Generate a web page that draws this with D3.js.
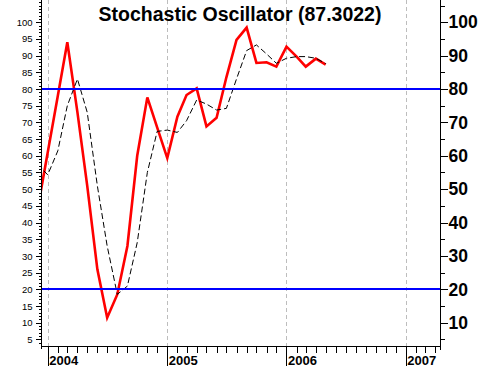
<!DOCTYPE html>
<html>
<head>
<meta charset="utf-8">
<script src="https://cdn.jsdelivr.net/npm/d3@7"></script>
<style>
html,body{margin:0;padding:0;background:#fff;}
svg{display:block;font-family:"Liberation Sans",Arial,sans-serif;}
</style>
</head>
<body>
<svg id="chart" width="481" height="366"></svg>
<script>
// ---- data ----
const dates = ["2003-12-01","2004-01-01","2004-02-01","2004-03-01","2004-04-01","2004-05-01","2004-06-01","2004-07-01","2004-08-01","2004-09-01","2004-10-01","2004-11-01","2004-12-01",
  "2005-01-01","2005-02-01","2005-03-01","2005-04-01","2005-05-01","2005-06-01","2005-07-01","2005-08-01","2005-09-01","2005-10-01","2005-11-01","2005-12-01",
  "2006-01-01","2006-02-01","2006-03-01","2006-04-01","2006-05-01"];
const kValues = [44,61,78,94,73,51,26,11.5,18.5,33,60,77.5,68.5,
  59.3,71.7,78.2,80.2,68.8,71.4,83.5,94.7,98.4,87.8,88,86.7,
  92.7,89.7,86.7,89.1,87.3022];
const dValues = [57.5,54.3,61.5,75,83,73,51,33,18.5,21,34,55,67.3,
  67.7,67,70.5,76.7,75.5,73.7,74.2,83,91.5,93.2,90.5,87.7,
  89.2,89.7,89.7,89.2,87.6];
const levels = [80,20];
const leftTickLabels = [5,10,15,20,25,30,35,40,45,50,55,60,65,70,75,80,85,90,95,100];
const rightTickLabels = [10,20,30,40,50,60,70,80,90,100];
const yearLabels = ["2004","2005","2006","2007"];
const titleText = "Stochastic Oscillator (87.3022)";

// ---- layout ----
const L = 42, R = 440, T = 0, B = 346;
const svg = d3.select("#chart");
const parse = d3.timeParse("%Y-%m-%d");
const x = d3.scaleTime()
  .domain([new Date(2003,11,14,12), new Date(2007,3,16)])
  .range([L, R]);
const y = d3.scaleLinear().domain([3.05, 106.65]).range([B, T]);

svg.append("defs").append("clipPath").attr("id","clip")
  .append("rect").attr("x",L).attr("y",T).attr("width",R-L).attr("height",B-T);

// year gridlines
const years = yearLabels.map(s => new Date(+s,0,1));
svg.append("g").selectAll("line").data(years).join("line")
  .attr("x1", d => Math.round(x(d))+0.5).attr("x2", d => Math.round(x(d))+0.5)
  .attr("y1", T).attr("y2", B)
  .attr("stroke","#bdbdbd").attr("stroke-width",1).attr("stroke-dasharray","4,3");

const pts = dates.map((d,i) => ({date: parse(d), k: kValues[i], d: dValues[i]}));
const plot = svg.append("g").attr("clip-path","url(#clip)");

plot.append("path").datum(pts)
  .attr("fill","none").attr("stroke","#ff0000").attr("stroke-width",2.6)
  .attr("stroke-linejoin","miter")
  .attr("d", d3.line().x(p => x(p.date)).y(p => y(p.k)));

plot.append("path").datum(pts)
  .attr("fill","none").attr("stroke","#000").attr("stroke-width",1)
  .attr("stroke-dasharray","6,3")
  .attr("d", d3.line().x(p => x(p.date)).y(p => y(p.d)));

plot.selectAll("line.lvl").data(levels).join("line").attr("class","lvl")
  .attr("x1", L).attr("x2", R)
  .attr("y1", d => Math.round(y(d))).attr("y2", d => Math.round(y(d)))
  .attr("stroke","#0000ff").attr("stroke-width",2);

// left axis
const gl = svg.append("g").attr("transform",`translate(${L-0.5},0)`);
gl.call(d3.axisLeft(y).tickValues(d3.range(4,107,1)).tickSize(3).tickFormat(""));
gl.call(g => g.select(".domain").remove());
const gl2 = svg.append("g").attr("transform",`translate(${L-0.5},0)`);
gl2.call(d3.axisLeft(y).tickValues(leftTickLabels).tickSize(6).tickPadding(3).tickFormat(d3.format("d")));
gl2.select(".domain").remove();
gl2.selectAll("text").attr("font-size","9.5px").attr("font-family","'Liberation Sans',Arial,sans-serif").attr("fill","#000");
svg.append("line").attr("x1",L-0.5).attr("x2",L-0.5).attr("y1",0).attr("y2",B+3).attr("stroke","#000");

// right axis
const gr = svg.append("g").attr("transform",`translate(${R+0.5},0)`);
gr.call(d3.axisRight(y).tickValues(d3.range(5,106,5)).tickSize(4).tickFormat(""));
gr.select(".domain").remove();
const gr2 = svg.append("g").attr("transform",`translate(${R+0.5},0)`);
gr2.call(d3.axisRight(y).tickValues(rightTickLabels).tickSize(7).tickPadding(1).tickFormat(d3.format("d")));
gr2.select(".domain").remove();
gr2.selectAll("text").attr("font-size","17.5px").attr("font-weight","bold")
  .attr("font-family","'Liberation Sans',Arial,sans-serif").attr("fill","#000");
svg.append("line").attr("x1",R+0.5).attr("x2",R+0.5).attr("y1",0).attr("y2",B+4).attr("stroke","#000");

// bottom axis
const gb = svg.append("g").attr("transform",`translate(0,${B+0.5})`);
gb.call(d3.axisBottom(x).ticks(d3.timeMonth.every(1)).tickSize(6).tickFormat(""));
gb.select(".domain").remove();
const gb2 = svg.append("g").attr("transform",`translate(0,${B+0.5})`);
gb2.call(d3.axisBottom(x).tickValues(years).tickSize(20).tickFormat(""));
gb2.select(".domain").remove();
svg.selectAll("g.tick line").attr("shape-rendering","crispEdges");
svg.append("line").attr("x1",L-0.5).attr("x2",R+0.5).attr("y1",B+0.5).attr("y2",B+0.5).attr("stroke","#000");
svg.append("g").selectAll("text").data(years).join("text")
  .attr("x", d => x(d)+1.5).attr("y", 364.5)
  .attr("font-size","13px").attr("font-weight","bold").attr("fill","#000")
  .text((d,i) => yearLabels[i]);

// title
svg.append("text").attr("x",240).attr("y",20.5).attr("text-anchor","middle")
  .attr("font-size","19.5px").attr("font-weight","bold").attr("fill","#000")
  .text(titleText);
</script>
</body>
</html>
